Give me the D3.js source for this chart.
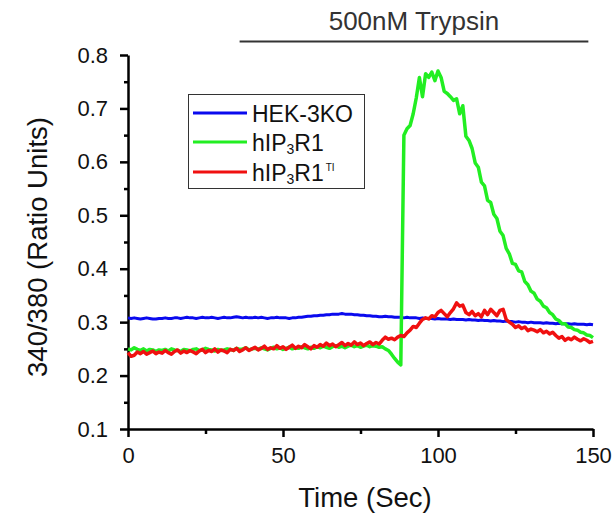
<!DOCTYPE html>
<html>
<head>
<meta charset="utf-8">
<script src="https://cdn.jsdelivr.net/npm/d3@7"></script>
<style>
  body { margin: 0; background: #fff; }
  svg { display: block; font-family: "Liberation Sans", Arial, sans-serif; }
</style>
</head>
<body>
<script>
// one sample per second, 0..150 s
const time = d3.range(0, 151)

const hek3ko = [
  0.308,0.307,0.308,0.307,0.306,0.307,0.308,0.307,0.306,0.306,0.307,
  0.307,0.308,0.307,0.307,0.308,0.308,0.307,0.308,0.309,0.308,
  0.308,0.307,0.308,0.309,0.308,0.308,0.309,0.308,0.307,0.308,
  0.309,0.308,0.308,0.309,0.310,0.309,0.308,0.309,0.308,0.308,
  0.309,0.308,0.309,0.308,0.307,0.308,0.308,0.309,0.308,0.308,
  0.308,0.307,0.308,0.308,0.309,0.309,0.310,0.311,0.311,0.312,
  0.312,0.313,0.313,0.314,0.314,0.315,0.315,0.315,0.316,0.315,
  0.315,0.315,0.314,0.314,0.313,0.313,0.312,0.312,0.311,0.311,
  0.310,0.310,0.311,0.310,0.310,0.309,0.309,0.309,0.308,0.309,
  0.308,0.308,0.308,0.307,0.308,0.307,0.307,0.307,0.306,0.307,
  0.306,0.306,0.306,0.305,0.306,0.305,0.305,0.305,0.304,0.305,
  0.304,0.304,0.303,0.304,0.303,0.303,0.302,0.303,0.302,0.302,
  0.301,0.302,0.301,0.301,0.300,0.301,0.300,0.300,0.299,0.300,
  0.299,0.299,0.299,0.298,0.299,0.298,0.298,0.297,0.298,0.297,
  0.297,0.297,0.296,0.297,0.296,0.296,0.296,0.295,0.296,0.295
]

const hip3r1 = [
  0.250,0.248,0.252,0.249,0.247,0.250,0.246,0.249,0.248,0.245,0.248,
  0.247,0.249,0.246,0.250,0.248,0.247,0.245,0.249,0.248,0.246,
  0.249,0.250,0.247,0.248,0.251,0.249,0.248,0.246,0.249,0.247,
  0.248,0.250,0.249,0.247,0.251,0.249,0.250,0.252,0.248,0.250,
  0.251,0.249,0.252,0.250,0.248,0.251,0.253,0.250,0.252,0.249,
  0.251,0.253,0.250,0.252,0.251,0.254,0.252,0.250,0.253,0.251,
  0.254,0.252,0.255,0.253,0.251,0.254,0.256,0.253,0.255,0.252,
  0.255,0.257,0.254,0.256,0.253,0.255,0.257,0.254,0.256,0.255,
  0.253,0.254,0.250,0.247,0.240,0.232,0.225,0.220,0.650,0.662,
  0.668,0.690,0.720,0.758,0.722,0.765,0.758,0.768,0.752,0.770,
  0.758,0.732,0.728,0.722,0.715,0.718,0.690,0.705,0.648,0.640,
  0.625,0.598,0.590,0.562,0.555,0.528,0.524,0.502,0.494,0.470,
  0.462,0.438,0.428,0.410,0.408,0.396,0.394,0.376,0.370,0.358,
  0.354,0.343,0.339,0.330,0.327,0.318,0.314,0.306,0.303,0.297,
  0.297,0.291,0.290,0.286,0.285,0.281,0.280,0.276,0.275,0.271
]

const hip3r1TI = [
  0.243,0.236,0.238,0.244,0.241,0.245,0.240,0.243,0.246,0.241,0.244,
  0.242,0.247,0.243,0.240,0.245,0.248,0.242,0.246,0.243,0.247,
  0.244,0.241,0.246,0.249,0.243,0.247,0.245,0.250,0.244,0.248,
  0.246,0.243,0.249,0.247,0.251,0.245,0.248,0.252,0.247,0.250,
  0.253,0.248,0.251,0.255,0.249,0.252,0.250,0.256,0.251,0.254,
  0.249,0.253,0.257,0.251,0.255,0.252,0.258,0.254,0.250,0.256,
  0.253,0.258,0.255,0.261,0.256,0.259,0.254,0.258,0.262,0.256,
  0.260,0.257,0.263,0.258,0.261,0.256,0.260,0.263,0.258,0.262,
  0.259,0.266,0.272,0.268,0.270,0.267,0.272,0.275,0.273,0.280,
  0.285,0.292,0.290,0.298,0.305,0.308,0.306,0.312,0.310,0.318,
  0.322,0.316,0.310,0.318,0.325,0.336,0.330,0.332,0.318,0.314,
  0.320,0.312,0.316,0.310,0.322,0.314,0.324,0.318,0.312,0.322,
  0.324,0.305,0.300,0.296,0.290,0.293,0.288,0.291,0.284,0.287,
  0.285,0.282,0.286,0.280,0.283,0.278,0.281,0.275,0.270,0.273,
  0.266,0.270,0.267,0.272,0.268,0.265,0.269,0.266,0.262,0.264
]

const xTicks = [0, 50, 100, 150]
const xMinorTicks = [25, 75, 125]
const yTicks = [0.1, 0.2, 0.3, 0.4, 0.5, 0.6, 0.7, 0.8]
const yMinorTicks = [0.15, 0.25, 0.35, 0.45, 0.55, 0.65, 0.75]
const trypsinSpan = [36, 148.5]

const svgWidth = 616
const svgHeight = 514
const fontFamily = '"Liberation Sans", Arial, sans-serif'

const svg = d3.select("body").append("svg")
    .attr("width", svgWidth)
    .attr("height", svgHeight)

svg.append("rect")
    .attr("width", svgWidth)
    .attr("height", svgHeight)
    .attr("fill", "#fff")

/* scales */
const xScale = d3.scaleLinear().domain([0, 150]).range([128, 593])
const yScale = d3.scaleLinear().domain([0.1, 0.8]).range([429, 55])

/* minor ticks first, so the main axis lines sit on top */
svg.append("g")
    .attr("transform", `translate(0, ${yScale(0.1)})`)
    .call(d3.axisBottom(xScale).tickValues(xMinorTicks).tickSize(5).tickSizeOuter(0).tickFormat(""))
    .call(g => g.select(".domain").remove())
    .call(g => g.selectAll("line").attr("stroke", "#000").attr("stroke-width", 2.5))

svg.append("g")
    .attr("transform", `translate(${xScale(0)}, 0)`)
    .call(d3.axisLeft(yScale).tickValues(yMinorTicks).tickSize(4).tickSizeOuter(0).tickFormat(""))
    .call(g => g.select(".domain").remove())
    .call(g => g.selectAll("line").attr("stroke", "#000").attr("stroke-width", 2.5))

/* main axes */
const xAxis = svg.append("g")
    .attr("transform", `translate(0, ${yScale(0.1)})`)
    .call(d3.axisBottom(xScale).tickValues(xTicks).tickSize(8).tickSizeOuter(0).tickPadding(10).tickFormat(d3.format("d")))
xAxis.select(".domain").attr("stroke", "#000").attr("stroke-width", 2.5)
xAxis.selectAll("line").attr("stroke", "#000").attr("stroke-width", 2.5)
xAxis.selectAll("text")
    .attr("font-family", fontFamily)
    .attr("font-size", 22)
    .attr("fill", "#111")

const yAxis = svg.append("g")
    .attr("transform", `translate(${xScale(0)}, 0)`)
    .call(d3.axisLeft(yScale).tickValues(yTicks).tickSize(8).tickSizeOuter(0).tickPadding(12).tickFormat(d3.format(".1f")))
yAxis.select(".domain").attr("stroke", "#000").attr("stroke-width", 2.5)
yAxis.selectAll("line").attr("stroke", "#000").attr("stroke-width", 2.5)
yAxis.selectAll("text")
    .attr("font-family", fontFamily)
    .attr("font-size", 22)
    .attr("fill", "#111")

/* axis titles */
svg.append("text")
    .attr("x", 365)
    .attr("y", 507)
    .attr("text-anchor", "middle")
    .attr("font-family", fontFamily)
    .attr("font-size", 27.5)
    .attr("fill", "#111")
    .text("Time (Sec)")

svg.append("text")
    .attr("transform", `translate(47, 247) rotate(-90)`)
    .attr("text-anchor", "middle")
    .attr("font-family", fontFamily)
    .attr("font-size", 27.5)
    .attr("fill", "#111")
    .text("340/380 (Ratio Units)")

/* trypsin bar */
svg.append("line")
    .attr("x1", xScale(trypsinSpan[0]))
    .attr("x2", xScale(trypsinSpan[1]))
    .attr("y1", 41.5)
    .attr("y2", 41.5)
    .attr("stroke", "#333")
    .attr("stroke-width", 2)

svg.append("text")
    .attr("x", (xScale(trypsinSpan[0]) + xScale(trypsinSpan[1])) / 2)
    .attr("y", 30)
    .attr("text-anchor", "middle")
    .attr("font-family", fontFamily)
    .attr("font-size", 26)
    .attr("fill", "#333")
    .text("500nM Trypsin")

/* traces */
const series = [
    { name: "HEK-3KO", values: hek3ko, color: "#0a0aee", width: 3 },
    { name: "hIP3R1", values: hip3r1, color: "#22ee22", width: 3.5 },
    { name: "hIP3R1TI", values: hip3r1TI, color: "#f01010", width: 3.5 }
]

const line = d3.line()
    .x((d, i) => xScale(time[i]))
    .y(d => yScale(d))

svg.selectAll(".trace")
    .data(series)
    .enter()
    .append("path")
    .attr("class", "trace")
    .attr("d", d => line(d.values))
    .attr("fill", "none")
    .attr("stroke", d => d.color)
    .attr("stroke-width", d => d.width)
    .attr("stroke-linejoin", "round")

/* legend */
const legend = svg.append("g")
legend.append("rect")
    .attr("x", 188.5)
    .attr("y", 94.5)
    .attr("width", 176)
    .attr("height", 94)
    .attr("fill", "#fff")
    .attr("stroke", "#333")
    .attr("stroke-width", 1)

const legendRows = [113, 142, 172]
series.forEach((s, i) => {
    legend.append("line")
        .attr("x1", 193)
        .attr("x2", 247)
        .attr("y1", legendRows[i])
        .attr("y2", legendRows[i])
        .attr("stroke", s.color)
        .attr("stroke-width", 3)
})

const legendText = (i) => legend.append("text")
    .attr("x", 252)
    .attr("y", legendRows[i] + 9)
    .attr("font-family", fontFamily)
    .attr("font-size", 23)
    .attr("fill", "#111")

legendText(0).text("HEK-3KO")

const t1 = legendText(1)
t1.append("tspan").text("hIP")
t1.append("tspan").attr("font-size", 14).attr("dy", 3).text("3")
t1.append("tspan").attr("dy", -3).text("R1")

const t2 = legendText(2)
t2.append("tspan").text("hIP")
t2.append("tspan").attr("font-size", 14).attr("dy", 3).text("3")
t2.append("tspan").attr("dy", -3).text("R1")
t2.append("tspan").attr("font-size", 10).attr("dy", -10).attr("dx", 2).text("TI")
</script>
</body>
</html>
